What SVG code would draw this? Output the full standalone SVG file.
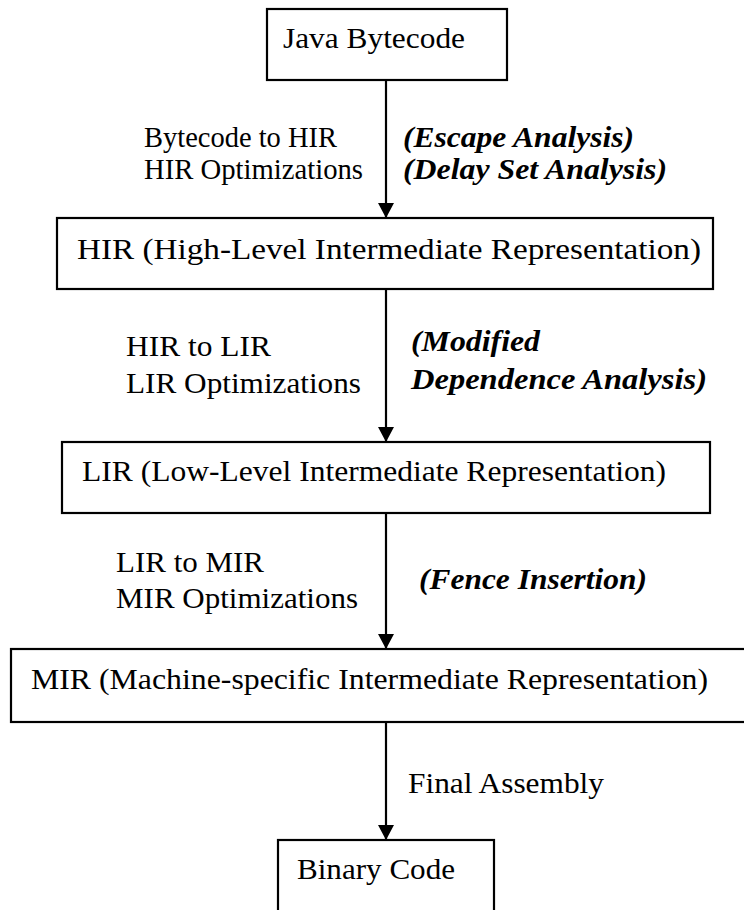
<svg xmlns="http://www.w3.org/2000/svg" width="744" height="910" viewBox="0 0 744 910">
<defs>
<marker id="ah" markerWidth="16" markerHeight="18" refX="15" refY="8" orient="auto" markerUnits="userSpaceOnUse">
<path d="M0,0 L15,8 L0,16 Z" fill="#000"/>
</marker>
<style>
.box{fill:#fff;stroke:#000;stroke-width:2.2}
.t{font-family:"Liberation Serif","Times New Roman",serif;font-size:30px;fill:#000}
.bi{font-family:"Liberation Serif","Times New Roman",serif;font-size:30px;font-weight:bold;font-style:italic;fill:#000}
.ln{stroke:#000;stroke-width:2.2;fill:none}
</style>
</defs>
<rect width="744" height="910" fill="#fff"/>
<g id="connectors">
<line class="ln" x1="386" y1="80" x2="386" y2="218" marker-end="url(#ah)"/>
<line class="ln" x1="386" y1="289" x2="386" y2="442" marker-end="url(#ah)"/>
<line class="ln" x1="386" y1="513" x2="386" y2="649" marker-end="url(#ah)"/>
<line class="ln" x1="386" y1="722" x2="386" y2="840" marker-end="url(#ah)"/>
</g>
<g id="java">
<rect class="box" x="267" y="9" width="240" height="71"/>
<text class="t" x="283" y="48" textLength="182" lengthAdjust="spacingAndGlyphs">Java Bytecode</text>
</g>
<g id="hir">
<rect class="box" x="57" y="218" width="656" height="71"/>
<text class="t" x="77" y="259" textLength="624" lengthAdjust="spacingAndGlyphs">HIR (High-Level Intermediate Representation)</text>
</g>
<g id="lir">
<rect class="box" x="62" y="442" width="648" height="71"/>
<text class="t" x="82" y="481" textLength="584" lengthAdjust="spacingAndGlyphs">LIR (Low-Level Intermediate Representation)</text>
</g>
<g id="mir">
<rect class="box" x="11" y="649" width="740" height="73"/>
<text class="t" x="31" y="689" textLength="677" lengthAdjust="spacingAndGlyphs">MIR (Machine-specific Intermediate Representation)</text>
</g>
<g id="binary">
<rect class="box" x="278" y="840" width="216" height="90"/>
<text class="t" x="297" y="879" textLength="158" lengthAdjust="spacingAndGlyphs">Binary Code</text>
</g>
<g id="labels">
<text class="t" x="144" y="147" textLength="193" lengthAdjust="spacingAndGlyphs">Bytecode to HIR</text>
<text class="t" x="144" y="179" textLength="219" lengthAdjust="spacingAndGlyphs">HIR Optimizations</text>
<text class="bi" x="403" y="147" textLength="231" lengthAdjust="spacingAndGlyphs">(Escape Analysis)</text>
<text class="bi" x="403" y="179" textLength="264" lengthAdjust="spacingAndGlyphs">(Delay Set Analysis)</text>
<text class="t" x="126" y="356" textLength="145" lengthAdjust="spacingAndGlyphs">HIR to LIR</text>
<text class="t" x="126" y="393" textLength="235" lengthAdjust="spacingAndGlyphs">LIR Optimizations</text>
<text class="bi" x="411" y="351" textLength="129" lengthAdjust="spacingAndGlyphs">(Modified</text>
<text class="bi" x="411" y="389" textLength="296" lengthAdjust="spacingAndGlyphs">Dependence Analysis)</text>
<text class="t" x="116" y="572" textLength="148" lengthAdjust="spacingAndGlyphs">LIR to MIR</text>
<text class="t" x="116" y="608" textLength="242" lengthAdjust="spacingAndGlyphs">MIR Optimizations</text>
<text class="bi" x="419" y="589" textLength="228" lengthAdjust="spacingAndGlyphs">(Fence Insertion)</text>
<text class="t" x="408" y="793" textLength="196" lengthAdjust="spacingAndGlyphs">Final Assembly</text>
</g>
</svg>
